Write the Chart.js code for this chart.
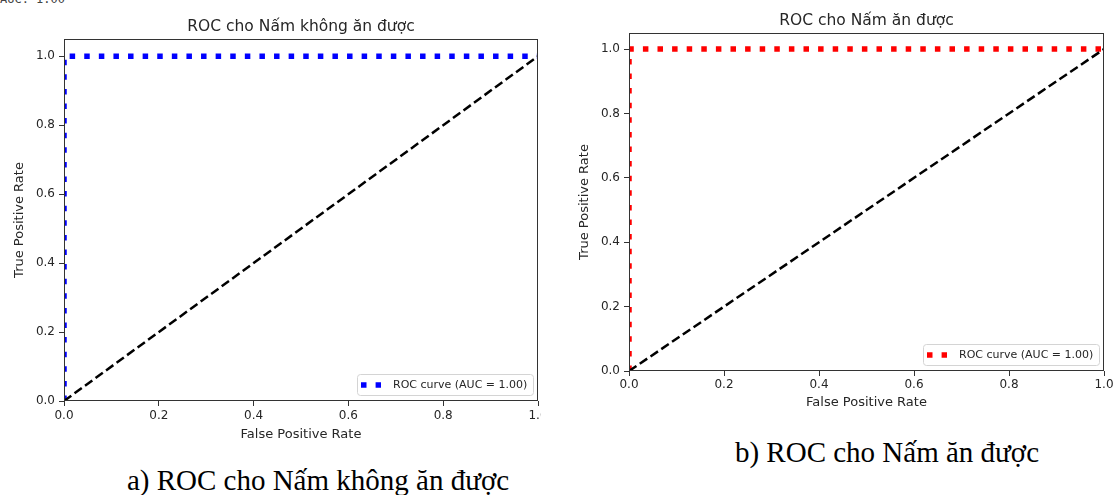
<!DOCTYPE html>
<html>
<head>
<meta charset="utf-8">
<script src="https://cdn.jsdelivr.net/npm/chart.js@4.4.1/dist/chart.umd.min.js"></script>
<style>
  html, body { margin: 0; padding: 0; background: #fff; }
  #page { position: relative; width: 1118px; height: 495px; overflow: hidden; background: #fff; }
  .wrap { position: absolute; top: 0; overflow: hidden; }
  .caption { position: absolute; font-family: 'Liberation Serif', 'Times New Roman', serif; font-size: 29px; line-height: 29px; color: #000; white-space: nowrap; transform: translateX(-50%); }
  #auc { position: absolute; left: 0; top: -7px; font-family: 'DejaVu Sans Mono', monospace; font-size: 12px; line-height: 12px; color: #444; }
</style>
</head>
<body>
<div id="page">
  <div id="auc">AUC: 1.00</div>
  <div class="wrap" style="left:0;width:541px;height:450px;"><canvas id="chartA" width="570" height="450"></canvas></div>
  <div class="wrap" style="left:560px;width:558px;height:420px;"><canvas id="chartB" width="558" height="420"></canvas></div>
  <div class="caption" style="left:318px;top:466px;">a) ROC cho Nấm không ăn được</div>
  <div class="caption" style="left:887px;top:438px;">b) ROC cho Nấm ăn được</div>
</div>
<script>
// ROC points (both classes are perfect)
const rocFprA = [0.0, 0.0, 1.0];
const rocTprA = [0.0, 1.0, 1.0];
const rocFprB = [0.0, 0.0, 1.0];
const rocTprB = [0.0, 1.0, 1.0];
const chanceX = [0.0, 1.0];
const chanceY = [0.0, 1.0];
const rateTicks = [0.0, 0.2, 0.4, 0.6, 0.8, 1.0];
const aucA = 1.00;
const aucB = 1.00;
const titleA = 'ROC cho Nấm không ăn được';
const titleB = 'ROC cho Nấm ăn được';

const textColor = '#262626';

function toPoints(xs, ys) {
    return xs.map((x, i) => ({ x: x, y: ys[i] }));
}

// box around the plot + legend in the lower right corner
const frameAndLegend = {
    id: 'frameAndLegend',
    afterDatasetsDraw(chart) {
        const ctx = chart.ctx;
        const a = chart.chartArea;
        ctx.save();
        ctx.strokeStyle = '#333';
        ctx.lineWidth = 1;
        const l = Math.round(a.left) + 0.5, t = Math.round(a.top) + 0.5;
        const r = Math.round(a.right) - 0.5, b = Math.round(a.bottom) - 0.5;
        ctx.strokeRect(l, t, r - l, b - t);

        const ds = chart.data.datasets.find(d => d.showInLegend);
        ctx.font = '11px "DejaVu Sans"';
        const tw = ctx.measureText(ds.label).width;
        const w = Math.round(36 + tw + 6), h = 21;
        const x = Math.round(a.right - 5 - w), y = Math.round(a.bottom - 6 - h);
        ctx.fillStyle = 'rgba(255,255,255,0.8)';
        ctx.strokeStyle = '#d4d4d4';
        ctx.beginPath();
        ctx.roundRect(x + 0.5, y + 0.5, w, h, 3);
        ctx.fill();
        ctx.stroke();

        ctx.strokeStyle = ds.borderColor;
        ctx.lineWidth = ds.borderWidth;
        ctx.lineCap = 'butt';
        ctx.setLineDash(ds.borderDash);
        ctx.beginPath();
        ctx.moveTo(x + 4, y + h / 2 + 0.5);
        ctx.lineTo(x + 24, y + h / 2 + 0.5);
        ctx.stroke();
        ctx.setLineDash([]);

        ctx.fillStyle = textColor;
        ctx.textBaseline = 'middle';
        ctx.fillText(ds.label, x + 36, y + h / 2 + 1);
        ctx.restore();
    }
};

function rocChart(canvasId, fpr, tpr, color, auc, title, lay) {
    const config = {
        type: 'scatter',
        data: {
            datasets: [
                {
                    label: 'ROC curve (AUC = ' + auc.toFixed(2) + ')',
                    data: toPoints(fpr, tpr),
                    showLine: true,
                    borderColor: color,
                    borderWidth: 5.5,
                    borderDash: [5.5, 9.1],
                    borderCapStyle: 'butt',
                    borderJoinStyle: 'miter',
                    pointRadius: 0,
                    clip: 0,
                    order: 1,
                    showInLegend: true
                },
                {
                    label: 'chance',
                    data: toPoints(chanceX, chanceY),
                    showLine: true,
                    borderColor: '#000',
                    borderWidth: 2.5,
                    borderDash: [9, 4],
                    pointRadius: 0,
                    clip: 0,
                    order: 0
                }
            ]
        },
        options: {
            responsive: false,
            animation: false,
            layout: { padding: { left: 0, right: lay.padRight, top: 0, bottom: 0 } },
            plugins: {
                legend: { display: false },
                tooltip: { enabled: false },
                title: {
                    display: true,
                    fullSize: false,
                    text: title,
                    color: textColor,
                    font: { family: 'DejaVu Sans', size: 15.5, weight: 'normal' },
                    padding: { top: lay.titleTop, bottom: lay.titleBottom }
                }
            },
            scales: {
                x: {
                    type: 'linear',
                    min: 0,
                    max: 1,
                    afterBuildTicks: function (axis) {
                        axis.ticks = rateTicks.map(v => ({ value: v }));
                    },
                    afterFit: function (scale) { scale.height = lay.xHeight; },
                    grid: { drawOnChartArea: false, drawTicks: true, tickLength: 5, tickColor: '#333' },
                    border: { display: false },
                    ticks: {
                        padding: lay.xTickPad,
                        color: textColor,
                        font: { family: 'DejaVu Sans', size: 12 },
                        callback: v => Number(v).toFixed(1)
                    },
                    title: {
                        display: true,
                        text: 'False Positive Rate',
                        color: textColor,
                        font: { family: 'DejaVu Sans', size: 13 },
                        padding: { top: 0, bottom: lay.xTitlePad }
                    }
                },
                y: {
                    type: 'linear',
                    min: 0,
                    max: 1.05,
                    afterBuildTicks: function (axis) {
                        axis.ticks = rateTicks.map(v => ({ value: v }));
                    },
                    afterFit: function (scale) { scale.width = lay.yWidth; },
                    grid: { drawOnChartArea: false, drawTicks: true, tickLength: 5, tickColor: '#333' },
                    border: { display: false },
                    ticks: {
                        padding: 4,
                        color: textColor,
                        font: { family: 'DejaVu Sans', size: 12 },
                        callback: v => Number(v).toFixed(1)
                    },
                    title: {
                        display: true,
                        text: 'True Positive Rate',
                        color: textColor,
                        font: { family: 'DejaVu Sans', size: 13 },
                        padding: { top: lay.yTitlePad, bottom: 0 }
                    }
                }
            }
        },
        plugins: [frameAndLegend]
    };
    return new Chart(document.getElementById(canvasId), config);
}

rocChart('chartA', rocFprA, rocTprA, '#0000ff', aucA, titleA,
    { padRight: 32, titleTop: 17.2, titleBottom: 3.2, xHeight: 49, xTickPad: 3, xTitlePad: 7.2, yWidth: 64, yTitlePad: 12.2 });

rocChart('chartB', rocFprB, rocTprB, '#ff0000', aucB, titleB,
    { padRight: 14, titleTop: 11.7, titleBottom: 2.7, xHeight: 49, xTickPad: 2, xTitlePad: 9.2, yWidth: 69, yTitlePad: 17.2 });
</script>
</body>
</html>
